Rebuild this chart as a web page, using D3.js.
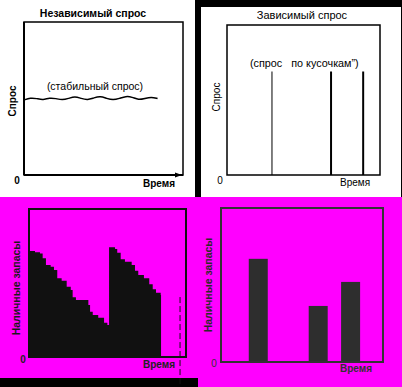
<!DOCTYPE html>
<meta charset="utf-8">
<script src="https://d3js.org/d3.v7.min.js"></script>
<style>
  body { margin: 0; background: #000; }
  svg { display: block; }
  text { font-family: "Liberation Sans", Arial, sans-serif; }
</style>
<div id="chart"></div>
<script>
// independent (stable) demand over time
var stableTime   = [0, 4, 8, 12, 16, 20, 24, 28, 32, 36, 40, 44, 48, 52, 56, 60, 64, 68, 72, 76, 80, 84];
var stableDemand = [49, 50.5, 50, 49, 50.5, 50, 49, 50, 51.5, 50, 49, 50.5, 51.5, 50, 49, 50, 51.5, 51, 49, 50, 51, 50];

// dependent ("lumpy") demand
var lumpyTime   = [29.4, 68, 89];
var lumpyDemand = [69, 69, 69];

// inventory on hand (stepped)
var stockTime  = [0.2, 3.8, 7.0, 8.7, 10.8, 13.8, 15.9, 18.0, 20.8, 24.0, 26.6, 27.8, 29.9, 37.8, 38.9, 40.6, 44.1, 47.8, 49.9,
                  51.0, 54.8, 56.2, 58.4, 61.1, 65.4, 67.5, 69.6, 73.2, 76.6, 78.8, 80.9, 83.9, 84.1];
var stockLevel = [71.6, 70.7, 70.0, 66.7, 62.2, 61.0, 58.8, 53.2, 51.6, 47.5, 45.3, 40.3, 38.5, 35.1, 30.6, 28.4, 26.6, 23.2, 21.6,
                  74.1, 73.0, 70.5, 66.0, 64.4, 62.2, 58.3, 55.4, 53.2, 49.1, 45.7, 43.4, 41.9, 0];

// inventory on hand (bars)
var barTime  = [23, 60, 80];
var barLevel = [67, 36.4, 52];

var labelTime = "Время";
var labelDemand = "Спрос";
var labelStock = "Наличные запасы";

var W = 402, H = 387;
var svg = d3.select("#chart").append("svg").attr("width", W).attr("height", H);

// backgrounds
svg.append("rect").attr("width", W).attr("height", H).attr("fill", "#000");
svg.append("rect").attr("x", 0).attr("y", 0).attr("width", 195).attr("height", 197).attr("fill", "#fff");
svg.append("rect").attr("x", 201).attr("y", 7).attr("width", 200).attr("height", 190).attr("fill", "#fff");
svg.append("rect").attr("x", 0).attr("y", 197).attr("width", W).attr("height", H - 197).attr("fill", "#ff00ff");
svg.append("rect").attr("x", 0).attr("y", 378).attr("width", 198).attr("height", 9).attr("fill", "#000");

function panel(box) {
  return {
    x: d3.scaleLinear().domain([0, 100]).range([box.left, box.right]),
    y: d3.scaleLinear().domain([0, 100]).range([box.bottom, box.top]),
    box: box
  };
}

function frame(p, color, w) {
  svg.append("rect")
    .attr("x", p.x(0)).attr("y", p.y(100))
    .attr("width", p.x(100) - p.x(0)).attr("height", p.y(0) - p.y(100))
    .attr("fill", "none").attr("stroke", color).attr("stroke-width", w);
}

function vlabel(txt, x, y, size, weight, color) {
  svg.append("text").attr("transform", "translate(" + x + "," + y + ") rotate(-90)")
    .attr("text-anchor", "middle").attr("font-size", size).attr("font-weight", weight)
    .attr("fill", color).text(txt);
}

function label(txt, x, y, size, weight, color, anchor) {
  svg.append("text").attr("x", x).attr("y", y).attr("font-size", size)
    .attr("font-weight", weight).attr("fill", color)
    .attr("text-anchor", anchor || "start").text(txt);
}

// ---- panel 1: independent demand
var p1 = panel({left: 24, right: 183, top: 22, bottom: 175});
frame(p1, "#000", 1.5);
svg.append("line").attr("x1", p1.x(0)).attr("x2", p1.x(0)).attr("y1", p1.y(0)).attr("y2", p1.y(100))
  .attr("stroke", "#000").attr("stroke-width", 2);
svg.append("line").attr("x1", p1.x(0)).attr("x2", p1.x(100)).attr("y1", p1.y(0)).attr("y2", p1.y(0))
  .attr("stroke", "#000").attr("stroke-width", 2);
svg.append("path")
  .attr("d", "M" + (p1.x(100) - 8) + "," + (p1.y(0) - 2.5) + "L" + (p1.x(100) - 1) + "," + p1.y(0) +
             "L" + (p1.x(100) - 8) + "," + (p1.y(0) + 2.5) + "Z")
  .attr("fill", "#000");

svg.append("path")
  .datum(stableTime.map(function(t, i) { return [t, stableDemand[i]]; }))
  .attr("d", d3.line().x(function(d) { return p1.x(d[0]); }).y(function(d) { return p1.y(d[1]); })
    .curve(d3.curveBasis))
  .attr("fill", "none").attr("stroke", "#000").attr("stroke-width", 1.5);

label("Независимый спрос", 93, 17, 10.5, "bold", "#000", "middle");
label("(стабильный спрос)", 95, 90, 10.5, "normal", "#000", "middle");
label("0", 17, 184, 10, "bold", "#000", "middle");
label(labelTime, 143, 187, 10, "bold", "#000");
vlabel(labelDemand, 15.5, 101, 10, "bold", "#000");

// ---- panel 2: dependent demand
var p2 = panel({left: 227, right: 380, top: 25, bottom: 175});
frame(p2, "#000", 1.5);
svg.selectAll(".spike")
  .data(lumpyTime)
  .enter().append("line")
  .attr("x1", function(d) { return p2.x(d); })
  .attr("x2", function(d) { return p2.x(d); })
  .attr("y1", p2.y(0))
  .attr("y2", function(d, i) { return p2.y(lumpyDemand[i]); })
  .attr("stroke", "#000")
  .attr("stroke-width", function(d, i) { return i === 0 ? 1 : 2; });

label("Зависимый спрос", 302, 19, 11, "normal", "#000", "middle");
svg.append("text").attr("x", 250).attr("y", 67).attr("font-size", 10.8).attr("fill", "#000")
  .attr("xml:space", "preserve").style("white-space", "pre").text("(спрос   по кусочкам\u201D)");
label("0", 220, 184, 10, "normal", "#000", "middle");
label(labelTime, 340, 186, 10, "normal", "#000");
vlabel(labelDemand, 219.5, 97, 10, "normal", "#000");

// ---- panel 3: inventory on hand (area)
var p3 = panel({left: 29, right: 186, top: 209, bottom: 357});
svg.append("path")
  .datum(stockTime.map(function(t, i) { return [t, stockLevel[i]]; }))
  .attr("d", d3.area().x(function(d) { return p3.x(d[0]); })
    .y0(p3.y(0)).y1(function(d) { return p3.y(d[1]); })
    .curve(d3.curveStepAfter))
  .attr("fill", "#111");
frame(p3, "#111", 2);
svg.append("line").attr("x1", p3.x(96.2)).attr("x2", p3.x(96.2)).attr("y1", p3.y(40.5)).attr("y2", p3.y(-20))
  .attr("stroke", "#111").attr("stroke-width", 1).attr("stroke-dasharray", "6,3");

vlabel(labelStock, 20, 288, 10.5, "bold", "#1a1a1a");
label("0", 23, 363, 10, "bold", "#222", "middle");
label(labelTime, 143, 368, 10, "bold", "#222");

// ---- panel 4: inventory on hand (bars)
var p4 = panel({left: 221, right: 383, top: 208, bottom: 362});
var barW = 19;
svg.selectAll(".bar")
  .data(barTime)
  .enter().append("rect")
  .attr("x", function(d) { return p4.x(d) - barW / 2; })
  .attr("y", function(d, i) { return p4.y(barLevel[i]); })
  .attr("width", barW)
  .attr("height", function(d, i) { return p4.y(0) - p4.y(barLevel[i]); })
  .attr("fill", "#2e2e2e");
frame(p4, "#333", 2);

vlabel(labelStock, 212, 285, 10.5, "bold", "#2a2a2a");
label("0", 214, 367, 10, "normal", "#333", "middle");
label(labelTime, 340, 372, 10, "bold", "#333");
</script>
